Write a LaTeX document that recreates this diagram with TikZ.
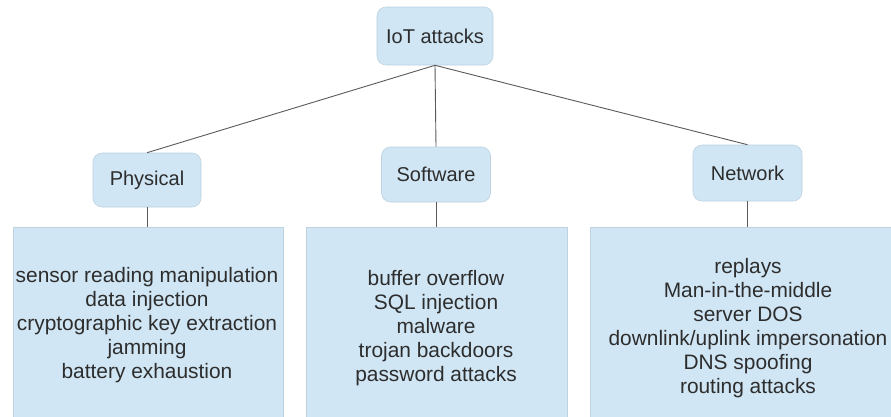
\documentclass[tikz,border=0pt]{standalone}
\usepackage{fontspec}
\setmainfont{Liberation Sans}
\definecolor{boxfill}{RGB}{208,230,244}
\definecolor{boxline}{RGB}{190,210,224}
\definecolor{txt}{RGB}{45,45,45}
\definecolor{edge}{RGB}{90,90,90}
\begin{document}
\begin{tikzpicture}[x=1pt,y=-1pt,
  catbox/.style={draw=boxline,fill=boxfill,rounded corners=9pt,line width=0.6pt,
    inner sep=0pt,text=txt,font=\fontsize{20}{24}\selectfont},
  listbox/.style={draw=boxline,fill=boxfill,line width=0.6pt,inner sep=0pt},
  listtext/.style={align=center,text=txt,inner sep=0pt,font=\fontsize{20.9}{24}\selectfont},
  link/.style={draw=edge,line width=0.9pt}]
\useasboundingbox (0,0) rectangle (891,416);
\fill[white] (0,0) rectangle (891,416);

% top node and the three categories
\node[catbox,minimum width=116pt,minimum height=58pt] (iot) at (435,36) {IoT attacks};
\node[catbox,minimum width=108pt,minimum height=54pt] (phys) at (147,180) {Physical};
\node[catbox,minimum width=109pt,minimum height=55pt] (soft) at (436,174.5) {Software};
\node[catbox,minimum width=109pt,minimum height=56pt] (net) at (747.5,173) {Network};

% attack lists (boxes run off the lower edge)
\node[listbox,minimum width=270pt,minimum height=200pt,anchor=north] (plist) at (148,227) {};
\node[listbox,minimum width=261pt,minimum height=200pt,anchor=north] (slist) at (436.5,227) {};
\node[listbox,minimum width=310pt,minimum height=200pt,anchor=north] (nlist) at (745,227) {};

\node[listtext] (ptext) at (147,325) {sensor reading manipulation\\data injection\\cryptographic key extraction\\jamming\\battery exhaustion};
\node[listtext] (stext) at (436,328) {buffer overflow\\SQL injection\\malware\\trojan backdoors\\password attacks};
\node[listtext] (ntext) at (748,328) {replays\\Man-in-the-middle\\server DOS\\downlink/uplink impersonation\\DNS spoofing\\routing attacks};

% connectors
\draw[link] (iot.south) -- (phys.north);
\draw[link] (iot.south) -- (soft.north);
\draw[link] (iot.south) -- (net.north);
\draw[link] (phys.south) -- (phys.south |- plist.north);
\draw[link] (soft.south) -- (soft.south |- slist.north);
\draw[link] (net.south) -- (net.south |- nlist.north);
\end{tikzpicture}
\end{document}
